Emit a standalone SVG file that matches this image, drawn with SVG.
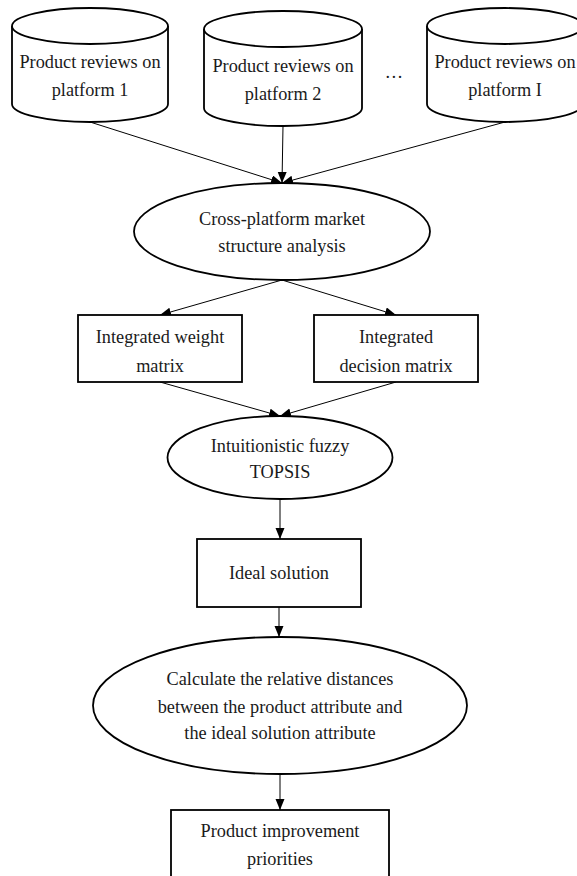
<svg xmlns="http://www.w3.org/2000/svg" width="577" height="876" viewBox="0 0 577 876">
<style>
.s{fill:#fff;stroke:#000;stroke-width:1.8}
.c{fill:none;stroke:#000;stroke-width:1}
text{font-family:"Liberation Serif","Times New Roman",serif;font-size:18.3px;fill:#1a1a1a;text-anchor:middle}
</style>
<defs>
<marker id="ah" markerUnits="userSpaceOnUse" markerWidth="12" markerHeight="10" refX="11" refY="4.5" orient="auto">
<path d="M0,0 L11,4.5 L0,9 z" fill="#000"/>
</marker>
</defs>
<rect width="577" height="876" fill="#fff"/>
<g id="connectors">
<line class="c" x1="90" y1="122" x2="282" y2="183" marker-end="url(#ah)"/>
<line class="c" x1="283" y1="126" x2="282" y2="183" marker-end="url(#ah)"/>
<line class="c" x1="505" y1="122" x2="282" y2="183" marker-end="url(#ah)"/>
<line class="c" x1="282" y1="280" x2="160" y2="315" marker-end="url(#ah)"/>
<line class="c" x1="282" y1="280" x2="396" y2="315" marker-end="url(#ah)"/>
<line class="c" x1="160" y1="382" x2="280" y2="416" marker-end="url(#ah)"/>
<line class="c" x1="396" y1="382" x2="280" y2="416" marker-end="url(#ah)"/>
<line class="c" x1="280" y1="499" x2="280" y2="539" marker-end="url(#ah)"/>
<line class="c" x1="279" y1="607" x2="279" y2="637" marker-end="url(#ah)"/>
<line class="c" x1="280" y1="774" x2="280" y2="810" marker-end="url(#ah)"/>
</g>
<g id="platform1">
<path class="s" d="M12,26 L12,104 A78,18 0 0 0 168,104 L168,26"/>
<ellipse class="s" cx="90" cy="26" rx="78" ry="18"/>
<text x="90" y="68">Product reviews on</text>
<text x="90" y="96">platform 1</text>
</g>
<g id="platform2">
<path class="s" d="M204,29 L204,108 A79,18 0 0 0 362,108 L362,29"/>
<ellipse class="s" cx="283" cy="29" rx="79" ry="18"/>
<text x="283" y="72">Product reviews on</text>
<text x="283" y="100">platform 2</text>
</g>
<g id="ellipsis">
<text x="394" y="78">…</text>
</g>
<g id="platformI">
<path class="s" d="M427,26 L427,104 A78,18 0 0 0 583,104 L583,26"/>
<ellipse class="s" cx="505" cy="26" rx="78" ry="18"/>
<text x="505" y="68">Product reviews on</text>
<text x="505" y="96">platform I</text>
</g>
<g id="crossplatform">
<ellipse class="s" cx="282" cy="231.5" rx="148" ry="48.5"/>
<text x="282" y="225">Cross-platform market</text>
<text x="282" y="252">structure analysis</text>
</g>
<g id="weight">
<rect class="s" x="78" y="315" width="164" height="67"/>
<text x="160" y="343">Integrated weight</text>
<text x="160" y="372">matrix</text>
</g>
<g id="decision">
<rect class="s" x="314" y="315" width="164" height="67"/>
<text x="396" y="343">Integrated</text>
<text x="396" y="372">decision matrix</text>
</g>
<g id="topsis">
<ellipse class="s" cx="280" cy="457.5" rx="112.5" ry="41.5"/>
<text x="280" y="452">Intuitionistic fuzzy</text>
<text x="280" y="478">TOPSIS</text>
</g>
<g id="ideal">
<rect class="s" x="197" y="539" width="164" height="68"/>
<text x="279" y="579">Ideal solution</text>
</g>
<g id="distances">
<ellipse class="s" cx="280" cy="705.5" rx="187" ry="68.5"/>
<text x="280" y="685">Calculate the relative distances</text>
<text x="280" y="713">between the product attribute and</text>
<text x="280" y="739">the ideal solution attribute</text>
</g>
<g id="priorities">
<rect class="s" x="171" y="810" width="218" height="80"/>
<text x="280" y="837">Product improvement</text>
<text x="280" y="865">priorities</text>
</g>
</svg>
